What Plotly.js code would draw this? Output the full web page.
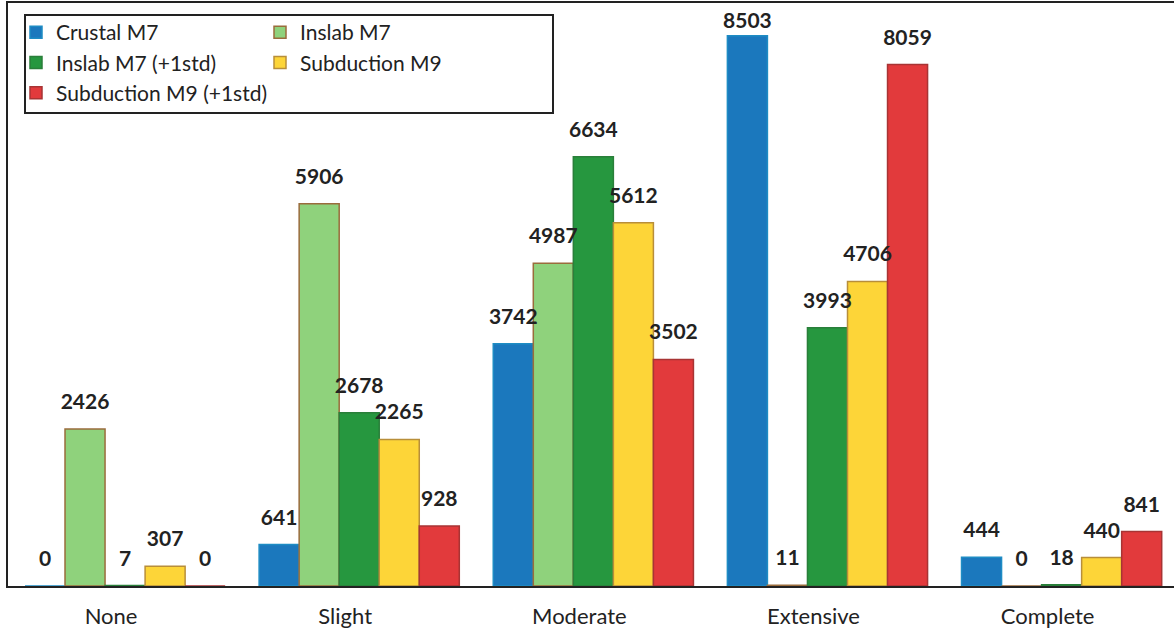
<!DOCTYPE html>
<html>
<head>
<meta charset="utf-8">
<script src="https://cdn.plot.ly/plotly-3.0.1.min.js"></script>
<style>html,body{margin:0;padding:0;background:#fff;}#chart{width:1174px;height:630px;}</style>
</head>
<body>
<div id="chart"></div>
<script>
const categories = ["None", "Slight", "Moderate", "Extensive", "Complete"];
const seriesNames = ["Crustal M7", "Inslab M7", "Inslab M7 (+1std)", "Subduction M9", "Subduction M9 (+1std)"];
const crustalM7 = [0, 641, 3742, 8503, 444];
const inslabM7 = [2426, 5906, 4987, 11, 0];
const inslabM7std = [7, 2678, 6634, 3993, 18];
const subductionM9 = [307, 2265, 5612, 4706, 440];
const subductionM9std = [0, 928, 3502, 8059, 841];

const values = [crustalM7, inslabM7, inslabM7std, subductionM9, subductionM9std];
const fills = ["#1b78bd", "#8fd27c", "#26973f", "#fdd538", "#e23a3c"];
const outlines = ["#1e8cc4", "#9a6c3c", "#2a7f3a", "#b88e3a", "#a83434"];
const legendOf = ["legend", "legend2", "legend", "legend2", "legend"];
// spacing (invisible marker size) between a label and its bar top; the tallest bar's label sits tight
const labelGap = [
  [22, 22, 22, 2, 22],
  [22, 22, 22, 22, 22],
  [22, 22, 22, 22, 22],
  [22, 22, 22, 22, 22],
  [22, 22, 22, 22, 22]
];
const FONT = "Lato, 'Open Sans', sans-serif";

const bars = values.map((v, i) => ({
  type: "bar",
  name: seriesNames[i],
  x: categories,
  y: v,
  legend: legendOf[i],
  legendgroup: "g" + i,
  marker: {color: fills[i], line: {color: outlines[i], width: 1.5}},
  hoverinfo: "x+y+name"
}));

const labels = values.map((v, i) => ({
  type: "scatter",
  mode: "markers+text",
  x: categories,
  y: v,
  showlegend: false,
  text: v.map(String),
  texttemplate: "<b>%{text}</b>",
  textposition: "top center",
  textfont: {family: FONT, size: 21, color: "#222"},
  marker: {size: labelGap[i], opacity: 0, color: "#fff"},
  cliponaxis: false,
  hoverinfo: "skip"
}));

const W = 1174, H = 630, L = 8, R = 0, T = 3, B = 44;
const pw = W - L - R, ph = H - T - B;
const px = x => (x - L) / pw;
const py = y => (H - B - y) / ph;

const legendBase = {
  xanchor: "left", yanchor: "top",
  orientation: "v", bgcolor: "rgba(0,0,0,0)", borderwidth: 0,
  font: {family: FONT, size: 21, color: "#222"},
  itemwidth: 30, tracegroupgap: 6, traceorder: "normal"
};

const layout = {
  width: W, height: H,
  margin: {l: L, r: R, t: T, b: B, pad: 0},
  paper_bgcolor: "#fff", plot_bgcolor: "#fff",
  barmode: "group", bargap: 0.145, bargroupgap: 0,
  scattermode: "group", scattergap: 0.145,
  font: {family: FONT, color: "#222"},
  xaxis: {
    type: "category", range: [-0.5, 4.48],
    showline: true, linecolor: "#222", linewidth: 2, mirror: true,
    ticks: "", showgrid: false, zeroline: false,
    tickfont: {family: FONT, size: 22, color: "#222"},
    ticklabelshift: -14, ticklabelstandoff: 10
  },
  yaxis: {
    range: [0, 9010], showticklabels: false, ticks: "",
    showgrid: false, zeroline: false,
    showline: true, linecolor: "#222", linewidth: 2
  },
  showlegend: true,
  legend: Object.assign({x: px(16), y: py(12)}, legendBase),
  legend2: Object.assign({x: px(260), y: py(12)}, legendBase),
  shapes: [{
    type: "rect", xref: "paper", yref: "paper",
    x0: px(25), x1: px(553), y0: py(15), y1: py(113),
    line: {color: "#222", width: 2}, fillcolor: "rgba(0,0,0,0)", layer: "below"
  }]
};

Plotly.newPlot("chart", bars.concat(labels), layout, {displayModeBar: false, staticPlot: true});
</script>
</body>
</html>
